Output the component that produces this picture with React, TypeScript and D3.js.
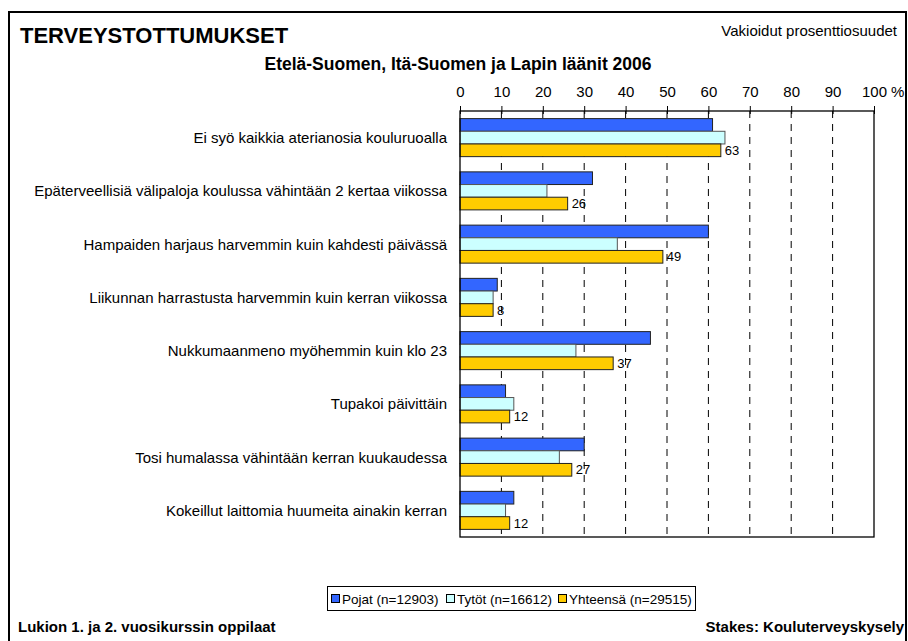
import React, { useEffect, useRef } from "react";
import * as d3 from "d3";

// categories and series
const categories = [
  "Ei syö kaikkia aterianosia kouluruoalla",
  "Epäterveellisiä välipaloja koulussa vähintään 2 kertaa viikossa",
  "Hampaiden harjaus harvemmin kuin kahdesti päivässä",
  "Liikunnan harrastusta harvemmin kuin kerran viikossa",
  "Nukkumaanmeno myöhemmin kuin klo 23",
  "Tupakoi päivittäin",
  "Tosi humalassa vähintään kerran kuukaudessa",
  "Kokeillut laittomia huumeita ainakin kerran",
];
const pojat = [61, 32, 60, 9, 46, 11, 30, 13];
const tytot = [64, 21, 38, 8, 28, 13, 24, 11];
const yhteensa = [63, 26, 49, 8, 37, 12, 27, 12];
const seriesNames = ["Pojat (n=12903)", "Tytöt (n=16612)", "Yhteensä (n=29515)"];
const seriesColors = ["#3366FF", "#CCFFFF", "#FFCC00"];
const xTicks = [0, 10, 20, 30, 40, 50, 60, 70, 80, 90, 100];

const W = 908;
const H = 641;
const FONT = "'Liberation Sans', Arial, sans-serif";

function App() {
  const ref = useRef<SVGSVGElement | null>(null);

  useEffect(() => {
    const svg = d3.select(ref.current);
    svg.selectAll("*").remove();

    // outer frame
    svg.append("rect")
      .attr("x", 9).attr("y", 12)
      .attr("width", 897).attr("height", 660)
      .attr("fill", "white").attr("stroke", "black").attr("stroke-width", 2);

    svg.append("text")
      .attr("x", 20).attr("y", 43)
      .attr("font-family", FONT).attr("font-size", 22).attr("font-weight", "bold")
      .text("TERVEYSTOTTUMUKSET");

    svg.append("text")
      .attr("x", 897).attr("y", 36).attr("text-anchor", "end")
      .attr("font-family", FONT).attr("font-size", 15)
      .text("Vakioidut prosenttiosuudet");

    svg.append("text")
      .attr("x", 458).attr("y", 70).attr("text-anchor", "middle")
      .attr("font-family", FONT).attr("font-size", 17.5).attr("font-weight", "bold")
      .text("Etelä-Suomen, Itä-Suomen ja Lapin läänit 2006");

    const left = 460, right = 874, top = 111, bottom = 537;
    const x = d3.scaleLinear().domain([0, 100]).range([left, right]);
    const y = d3.scaleBand<string>().domain(categories).range([top, bottom])
      .paddingInner(0.286).paddingOuter(0.143);
    const ySub = d3.scaleBand<number>().domain([0, 1, 2]).range([0, y.bandwidth()]);

    const g = svg.append("g");

    // dashed gridlines
    g.selectAll(".grid")
      .data(xTicks.filter(t => t > 0 && t < 100))
      .join("line")
      .attr("x1", d => x(d)).attr("x2", d => x(d))
      .attr("y1", top).attr("y2", bottom)
      .attr("stroke", "black").attr("stroke-width", 1)
      .attr("stroke-dasharray", "7,6");

    // top axis
    const axis = g.append("g")
      .attr("transform", `translate(0, ${top})`)
      .call(d3.axisTop(x).tickValues(xTicks).tickSize(5).tickSizeOuter(0).tickFormat(d => `${d}`));
    axis.select(".domain").remove();
    axis.selectAll("line").attr("stroke", "black").attr("y2", -5).attr("y1", 3);
    axis.selectAll("text")
      .attr("font-family", FONT).attr("font-size", 15).attr("fill", "black")
      .attr("y", -14).attr("dy", 0);

    svg.append("text")
      .attr("x", x(100) + 17).attr("y", 97)
      .attr("font-family", FONT).attr("font-size", 15)
      .text("%");

    const data = [pojat, tytot, yhteensa];
    data.forEach((vals, si) => {
      g.selectAll(`.bar${si}`)
        .data(vals)
        .join("rect")
        .attr("x", x(0))
        .attr("y", (_, i) => (y(categories[i]) as number) + (ySub(si) as number))
        .attr("width", d => x(d) - x(0))
        .attr("height", ySub.bandwidth())
        .attr("fill", seriesColors[si])
        .attr("stroke", si === 1 ? "#555" : "#222")
        .attr("stroke-width", 1);
    });

    // value labels for totals
    g.selectAll(".val")
      .data(yhteensa)
      .join("text")
      .attr("x", d => x(d) + 4)
      .attr("y", (_, i) => (y(categories[i]) as number) + (ySub(2) as number) + ySub.bandwidth() / 2)
      .attr("dy", "0.36em")
      .attr("font-family", FONT).attr("font-size", 13)
      .text(d => d);

    // plot frame
    g.append("rect")
      .attr("x", left).attr("y", top)
      .attr("width", right - left).attr("height", bottom - top)
      .attr("fill", "none").attr("stroke", "black").attr("stroke-width", 1.3);

    // category labels
    g.selectAll(".cat")
      .data(categories)
      .join("text")
      .attr("x", 447)
      .attr("y", d => (y(d) as number) + y.bandwidth() / 2)
      .attr("dy", "0.36em")
      .attr("text-anchor", "end")
      .attr("font-family", FONT).attr("font-size", 15)
      .text(d => d);

    // legend
    const lg = svg.append("g");
    lg.append("rect")
      .attr("x", 327.5).attr("y", 586.5).attr("width", 368).attr("height", 24)
      .attr("fill", "white").attr("stroke", "black").attr("stroke-width", 1);
    const itemX = [331, 446, 558];
    seriesNames.forEach((name, i) => {
      lg.append("rect")
        .attr("x", itemX[i] + 0.5).attr("y", 594.5).attr("width", 8).attr("height", 8)
        .attr("fill", seriesColors[i]).attr("stroke", "black").attr("stroke-width", 1);
      lg.append("text")
        .attr("x", itemX[i] + 11).attr("y", 603.5)
        .attr("font-family", FONT).attr("font-size", 13.5)
        .text(name);
    });

    svg.append("text")
      .attr("x", 18).attr("y", 632)
      .attr("font-family", FONT).attr("font-size", 15).attr("font-weight", "bold")
      .text("Lukion 1. ja 2. vuosikurssin oppilaat");

    svg.append("text")
      .attr("x", 904).attr("y", 632).attr("text-anchor", "end")
      .attr("font-family", FONT).attr("font-size", 15).attr("font-weight", "bold")
      .text("Stakes: Kouluterveyskysely");
  }, []);

  return (
    <svg ref={ref} width={W} height={H}
      style={{ position: "absolute", left: 0, top: 0, background: "white" }} />
  );
}

export default App;
